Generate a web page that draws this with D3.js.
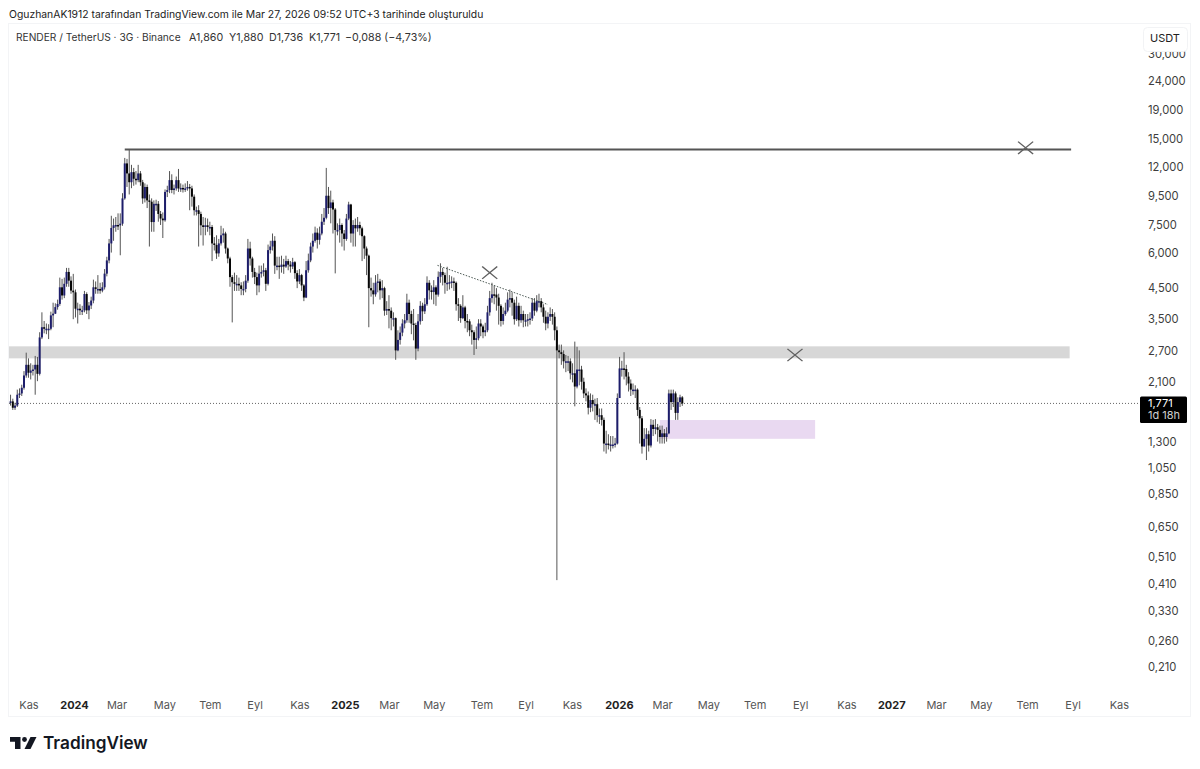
<!DOCTYPE html>
<html>
<head>
<meta charset="utf-8">
<script src="https://cdn.jsdelivr.net/npm/d3@7"></script>
<style>
  body { margin: 0; background: #fff; }
  svg { display: block; font-family: Inter, "Noto Sans", sans-serif; }
</style>
</head>
<body>
<div id="root"></div>
<script>
// 3 day candles
const opens = [
  1.78,1.80,1.71,1.74,1.90,1.92,2.01,2.22,2.42,2.27,2.31,2.33,2.42,2.25,3.02,3.28,3.24,3.24,3.24,3.61,
  3.66,3.86,3.96,4.53,4.24,4.66,5.13,4.78,4.41,4.35,3.81,3.81,3.76,3.76,4.29,3.76,3.91,4.07,4.53,
  4.47,4.47,4.41,4.53,5.06,5.63,6.46,7.32,7.48,7.50,7.48,7.58,9.30,12.34,11.38,10.60,11.50,10.90,10.78,11.38,
  10.60,9.30,10.20,9.15,9.05,7.68,8.90,8.90,8.20,7.90,7.79,9.80,9.95,10.78,9.95,10.08,10.78,10.08,10.12,10.08,
  10.08,10.20,10.08,9.43,8.45,8.45,8.20,7.48,7.38,7.48,7.38,7.38,6.46,6.38,5.96,6.46,6.90,7.00,6.20,5.72,
  4.92,4.72,4.66,4.66,4.60,4.47,4.47,4.78,6.20,5.72,5.13,4.92,4.60,5.06,5.13,5.20,4.66,6.12,6.30,6.60,
  5.40,5.40,5.34,5.44,5.36,5.60,5.44,5.36,5.55,5.08,4.75,5.00,4.60,4.17,5.20,5.63,6.30,6.60,7.05,6.65,
  7.00,7.70,7.95,9.50,8.60,9.00,8.50,7.20,7.20,7.50,7.00,6.70,7.90,8.85,7.00,7.50,7.30,7.50,7.30,6.85,
  6.20,5.85,4.50,4.42,4.28,4.70,4.75,4.42,4.50,3.75,3.80,3.75,3.53,3.53,2.72,2.96,3.14,3.38,3.47,4.00,3.65,
  3.38,3.34,2.76,3.44,3.90,3.73,3.95,4.70,4.42,4.36,4.53,4.27,4.93,5.13,5.00,4.70,4.70,4.72,4.75,4.70,
  3.95,3.90,3.53,3.85,3.45,3.44,3.20,3.15,2.96,3.00,3.38,3.30,3.15,3.20,3.70,4.15,4.28,4.27,4.17,3.90,
  3.45,3.65,3.75,4.10,4.15,4.00,3.50,3.90,3.47,3.65,3.47,3.47,3.50,3.52,4.00,3.75,4.05,4.05,3.85,3.57,
  3.38,3.57,3.65,3.57,3.20,2.72,2.68,2.64,2.49,2.49,2.49,2.26,2.26,2.03,2.33,2.33,2.11,1.92,1.89,1.71,
  1.82,1.76,1.76,1.61,1.61,1.55,1.28,1.28,1.27,1.27,1.27,1.28,1.85,2.35,2.35,2.34,2.20,2.08,1.98,1.98,
  1.98,1.68,1.57,1.25,1.33,1.38,1.26,1.49,1.44,1.46,1.43,1.35,1.39,1.35,1.39,1.92,1.79,1.92,1.64,1.79,
  1.860
];
const closes = [
  1.80,1.71,1.74,1.90,1.92,2.01,2.22,2.42,2.27,2.31,2.33,2.42,2.25,3.02,3.28,3.24,3.24,3.24,3.61,3.66,
  3.86,3.96,4.53,4.24,4.66,5.13,4.78,4.41,4.35,3.81,3.81,3.76,3.76,4.29,3.76,3.91,4.07,4.53,4.47,
  4.47,4.41,4.53,5.06,5.63,6.46,7.32,7.48,7.50,7.48,7.58,9.30,12.34,11.38,10.60,11.50,10.90,10.78,11.38,10.60,
  9.30,10.20,9.15,9.05,7.68,8.90,8.90,8.20,7.90,7.79,9.80,9.95,10.78,9.95,10.08,10.78,10.08,10.12,10.08,10.08,
  10.20,10.08,9.43,8.45,8.45,8.20,7.48,7.38,7.48,7.38,7.38,6.46,6.38,5.96,6.46,6.90,7.00,6.20,5.72,4.92,
  4.72,4.66,4.66,4.60,4.47,4.47,4.78,6.20,5.72,5.13,4.92,4.60,5.06,5.13,5.20,4.66,6.12,6.30,6.60,5.40,
  5.40,5.34,5.44,5.36,5.60,5.44,5.36,5.55,5.08,4.75,5.00,4.60,4.17,5.20,5.63,6.30,6.60,7.05,6.65,7.00,
  7.70,7.95,9.50,8.60,9.00,8.50,7.20,7.20,7.50,7.00,6.70,7.90,8.85,7.00,7.50,7.30,7.50,7.30,6.85,6.20,
  5.85,4.50,4.42,4.28,4.70,4.75,4.42,4.50,3.75,3.80,3.75,3.53,3.53,2.72,2.96,3.14,3.38,3.47,4.00,3.65,3.38,
  3.34,2.76,3.44,3.90,3.73,3.95,4.70,4.42,4.36,4.53,4.27,4.93,5.13,5.00,4.70,4.70,4.72,4.75,4.70,3.95,
  3.90,3.53,3.85,3.45,3.44,3.20,3.15,2.96,3.00,3.38,3.30,3.15,3.20,3.70,4.15,4.28,4.27,4.17,3.90,3.45,
  3.65,3.75,4.10,4.15,4.00,3.50,3.90,3.47,3.65,3.47,3.47,3.50,3.52,4.00,3.75,4.05,4.05,3.85,3.57,3.38,
  3.57,3.65,3.57,3.20,2.72,2.68,2.64,2.49,2.49,2.49,2.26,2.26,2.03,2.33,2.33,2.11,1.92,1.89,1.71,1.82,
  1.76,1.76,1.61,1.61,1.55,1.28,1.28,1.27,1.27,1.27,1.28,1.85,2.35,2.35,2.34,2.20,2.08,1.98,1.98,1.98,
  1.68,1.57,1.25,1.33,1.38,1.26,1.49,1.44,1.46,1.43,1.35,1.39,1.35,1.39,1.92,1.79,1.92,1.64,1.79,1.86,
  1.771
];
const highs = [
  1.90,1.84,1.78,1.98,2.00,2.06,2.30,2.67,2.55,2.45,2.42,2.60,2.58,3.15,3.70,3.45,3.38,3.36,3.72,4.00,
  3.98,4.10,4.90,4.85,4.90,5.30,5.30,4.95,5.05,4.45,4.00,3.95,3.90,4.40,4.35,4.02,4.20,4.82,4.75,
  5.00,4.70,4.72,5.25,5.80,6.70,8.08,7.90,8.00,8.24,8.24,9.70,12.90,12.80,13.75,12.20,11.90,11.60,12.20,11.60,
  10.80,10.50,10.40,9.60,9.30,9.15,9.20,9.10,8.40,8.30,10.00,10.30,11.60,11.30,10.40,11.10,11.80,10.50,10.40,10.50,
  10.70,10.45,10.30,9.60,8.70,8.80,8.35,8.00,7.95,7.90,7.70,7.50,6.80,6.90,6.70,7.45,7.30,7.10,6.25,5.80,
  5.00,5.10,5.00,4.90,4.72,4.75,5.00,6.70,6.55,5.80,5.30,5.10,5.40,5.40,5.50,5.30,6.40,6.60,7.00,6.85,
  5.80,5.80,5.85,5.70,5.85,5.70,5.60,5.75,5.60,5.20,5.25,5.05,4.65,5.60,5.95,6.50,7.00,7.40,7.30,7.40,
  8.20,8.60,11.90,10.20,9.90,9.20,8.60,7.60,7.90,7.60,7.20,8.20,9.05,8.90,7.80,7.90,8.00,7.70,7.40,6.90,
  6.30,5.90,4.90,4.70,5.00,5.05,4.85,4.80,4.55,4.05,4.25,3.85,3.70,3.55,3.20,3.30,3.50,3.65,4.30,4.10,3.75,
  3.80,3.40,3.65,4.05,4.00,4.15,4.95,4.80,4.60,4.80,4.60,5.15,5.50,5.30,5.10,5.35,5.00,4.95,4.90,4.75,
  4.15,3.95,4.25,3.90,3.65,3.50,3.35,3.20,3.30,3.50,3.50,3.35,3.40,3.90,4.40,4.70,4.60,4.50,4.30,3.95,
  3.85,4.00,4.35,4.45,4.35,4.10,4.20,4.00,3.90,3.75,3.65,3.65,3.70,4.15,4.15,4.25,4.30,4.15,3.95,3.75,
  3.70,3.85,3.80,3.70,3.30,2.85,2.85,2.72,2.62,2.60,2.55,2.45,2.92,2.80,2.72,2.40,2.18,2.00,1.95,1.92,
  1.90,1.84,1.85,1.70,1.70,1.58,1.42,1.38,1.36,1.36,1.34,1.92,2.58,2.50,2.68,2.42,2.28,2.15,2.08,2.05,
  2.00,1.72,1.60,1.45,1.45,1.42,1.56,1.55,1.56,1.50,1.48,1.48,1.44,1.46,1.98,1.98,1.98,1.95,1.86,1.90,
  1.880
];
const lows = [
  1.74,1.68,1.68,1.72,1.85,1.88,1.98,2.18,2.18,2.15,2.22,1.90,2.12,2.22,2.98,3.12,3.10,2.98,3.20,3.28,
  3.65,3.78,3.90,4.10,4.15,4.55,4.55,4.30,3.50,3.55,3.38,3.62,3.62,3.70,3.65,3.50,3.80,3.98,4.30,
  4.30,4.30,4.35,4.45,4.95,5.50,6.00,6.60,7.10,7.20,5.87,7.45,9.20,10.20,9.60,10.10,10.30,10.40,10.60,10.30,
  8.90,9.00,8.60,6.30,7.10,7.10,8.40,7.70,7.50,6.75,7.70,9.40,9.70,9.70,9.60,9.90,9.80,9.80,9.75,9.80,
  9.90,8.45,8.70,8.10,8.10,6.30,6.90,6.35,6.90,7.10,6.90,5.60,6.10,5.70,5.80,6.35,6.50,5.95,5.50,4.55,
  3.41,4.40,4.40,4.40,4.25,4.25,4.35,4.70,5.40,4.90,4.65,4.25,4.35,4.90,4.95,4.40,4.60,5.95,6.10,5.05,
  5.20,4.85,5.10,5.05,5.30,5.20,5.10,5.25,4.85,4.50,4.65,4.40,4.05,4.15,5.10,5.55,6.00,6.50,6.20,6.40,
  6.90,7.50,7.85,8.20,7.60,7.00,5.07,6.90,6.50,6.30,6.10,6.60,7.80,6.50,6.30,6.30,7.10,6.90,5.60,5.70,
  5.00,3.28,4.20,3.95,4.20,4.35,4.10,4.15,3.60,3.62,3.25,3.20,3.30,2.52,2.70,2.85,3.05,3.25,3.40,3.40,3.10,
  2.95,2.52,2.70,3.35,3.45,3.65,3.90,4.10,4.10,3.95,3.90,4.20,4.70,4.60,4.30,4.40,4.45,4.50,4.40,3.75,
  3.45,3.40,3.50,3.25,3.15,3.05,2.85,2.62,2.75,2.95,3.05,3.00,3.05,3.15,3.60,4.00,3.95,3.75,3.35,3.30,
  3.35,3.60,3.70,3.85,3.60,3.35,3.45,3.30,3.40,3.28,3.30,3.30,3.35,3.45,3.60,3.70,3.85,3.70,3.40,3.20,
  3.25,3.45,3.35,2.95,0.424,2.55,2.42,2.35,2.28,2.30,2.15,2.10,1.73,2.00,2.05,1.98,1.85,1.80,1.62,1.65,
  1.66,1.55,1.52,1.50,1.48,1.20,1.18,1.22,1.20,1.23,1.24,1.27,1.85,2.20,2.15,2.05,1.95,1.88,1.90,1.85,
  1.60,1.28,1.18,1.25,1.12,1.20,1.24,1.36,1.38,1.30,1.28,1.28,1.28,1.30,1.38,1.68,1.72,1.55,1.55,1.72,
  1.736
];
const lastBarDate = '2026-03-26';

// axis ticks, each label sits on the bar nearest the month start
const priceTicks = [30, 24, 19, 15, 12, 9.5, 7.5, 6, 4.5, 3.5, 2.7, 2.1, 1.3, 1.05, 0.85, 0.65, 0.51, 0.41, 0.33, 0.26, 0.21];
const timeTicks = ['2023-11-01','2024-01-01','2024-02-27','2024-05-01','2024-07-01','2024-08-30','2024-10-29',
  '2024-12-29','2025-02-26','2025-04-27','2025-06-30','2025-08-28','2025-10-29','2025-12-31','2026-02-27',
  '2026-04-30','2026-07-01','2026-08-31','2026-11-01','2026-12-31','2027-03-01','2027-04-30','2027-07-01',
  '2027-08-31','2027-11-01'];
const timeLabels = ['Kas','2024','Mar','May','Tem','Eyl','Kas','2025','Mar','May','Tem','Eyl','Kas','2026','Mar',
  'May','Tem','Eyl','Kas','2027','Mar','May','Tem','Eyl','Kas'];

// drawings on the chart
const athLine = { from: '2024-03-09', to: '2027-08-29', price: 13.8 };
const greyZone = { from: '2023-10-01', to: '2027-08-27', top: 2.81, bottom: 2.55 };
const pinkZone = { from: '2026-02-24', to: '2026-09-20', top: 1.548, bottom: 1.33 };
const trendDates = ['2025-05-02', '2025-09-27'];
const trendPrices = [5.41, 3.94];
const crossDates = ['2027-06-29', '2025-07-11', '2026-08-24'];
const crossPrices = [14.0, 5.10, 2.62];
const lastPrice = 1.771;

const headerText = 'OguzhanAK1912 tarafından TradingView.com ile Mar 27, 2026 09:52 UTC+3 tarihinde oluşturuldu';
const legendText = 'RENDER / TetherUS · 3G · Binance';
const legendValues = ['A1,860', 'Y1,880', 'D1,736', 'K1,771', '−0,088 (−4,73%)'];

buildChart();

function buildChart() {
    const w = 1200;
    const h = 769;
    const parseTime = d3.timeParse('%Y-%m-%d');
    const priceFormat = v => d3.format('.3f')(v).replace('.', ',');

    const svg = d3.select('#root').append('svg')
        .attr('width', w)
        .attr('height', h);

    const xScale = d3.scaleTime()
        .domain([parseTime('2024-01-01'), parseTime('2027-01-01')])
        .range([74, 892]);
    const yScale = d3.scaleLog()
        .domain([30, 0.21])
        .range([53.6, 667]);

    const lastDate = parseTime(lastBarDate);
    const bars = closes.map((c, i) => ({
        date: d3.timeDay.offset(lastDate, (i - closes.length + 1) * 3),
        open: opens[i],
        high: highs[i],
        low: lows[i],
        close: c
    }));

    // frame
    svg.append('rect')
        .attr('x', 8.5).attr('y', 23.5)
        .attr('width', 1182).attr('height', 693)
        .attr('fill', 'none')
        .attr('stroke', '#f3f4f6');

    svg.append('defs').append('clipPath').attr('id', 'pane')
        .append('rect')
        .attr('x', 9).attr('y', 24)
        .attr('width', 1131).attr('height', 670);

    const pane = svg.append('g').attr('clip-path', 'url(#pane)');

    // zones behind the candles
    [[greyZone, '#d7d7d7'], [pinkZone, '#e9d9f1']].forEach(([z, color]) => {
        pane.append('rect')
            .attr('x', xScale(parseTime(z.from)))
            .attr('y', yScale(z.top))
            .attr('width', xScale(parseTime(z.to)) - xScale(parseTime(z.from)))
            .attr('height', yScale(z.bottom) - yScale(z.top))
            .attr('fill', color);
    });

    // last price line
    pane.append('line')
        .attr('x1', 9).attr('x2', 1140)
        .attr('y1', yScale(lastPrice)).attr('y2', yScale(lastPrice))
        .attr('stroke', '#666')
        .attr('stroke-width', 1)
        .attr('stroke-dasharray', '1 2');

    // candles
    pane.selectAll('.wick')
        .data(bars)
        .enter()
        .append('line')
        .attr('class', 'wick')
        .attr('x1', d => xScale(d.date))
        .attr('x2', d => xScale(d.date))
        .attr('y1', d => yScale(d.high))
        .attr('y2', d => yScale(d.low))
        .attr('stroke', '#555')
        .attr('stroke-width', 1);

    pane.selectAll('.body')
        .data(bars)
        .enter()
        .append('rect')
        .attr('class', 'body')
        .attr('x', d => xScale(d.date) - 1)
        .attr('y', d => yScale(Math.max(d.open, d.close)))
        .attr('width', 2)
        .attr('height', d => Math.max(1.5, yScale(Math.min(d.open, d.close)) - yScale(Math.max(d.open, d.close))))
        .attr('fill', d => d.close >= d.open ? '#1d1d6b' : '#050505');

    // resistance line
    pane.append('line')
        .attr('x1', xScale(parseTime(athLine.from)))
        .attr('x2', xScale(parseTime(athLine.to)))
        .attr('y1', yScale(athLine.price))
        .attr('y2', yScale(athLine.price))
        .attr('stroke', '#555')
        .attr('stroke-width', 2);

    // dotted trend line
    pane.append('line')
        .attr('x1', xScale(parseTime(trendDates[0])))
        .attr('x2', xScale(parseTime(trendDates[1])))
        .attr('y1', yScale(trendPrices[0]))
        .attr('y2', yScale(trendPrices[1]))
        .attr('stroke', '#4d5a55')
        .attr('stroke-width', 1)
        .attr('stroke-dasharray', '1.5 1.5');

    // x marks
    const cross = d3.symbol(d3.symbolTimes, 150);
    pane.selectAll('.cross')
        .data(crossDates)
        .enter()
        .append('path')
        .attr('class', 'cross')
        .attr('d', cross)
        .attr('transform', (d, i) => `translate(${xScale(parseTime(d))},${yScale(crossPrices[i])}) scale(1,0.82)`)
        .attr('fill', 'none')
        .attr('stroke', '#5f5f5f')
        .attr('stroke-width', 1.4);

    // axes
    const yAxis = d3.axisRight(yScale)
        .tickValues(priceTicks)
        .tickFormat(priceFormat)
        .tickSize(0)
        .tickPadding(0);
    const yAxisG = svg.append('g')
        .attr('transform', 'translate(1148,0)')
        .call(yAxis);
    yAxisG.select('.domain').remove();
    yAxisG.selectAll('text')
        .attr('font-family', 'Inter')
        .attr('font-size', 11.2)
        .attr('fill', '#3d3d3d');

    const xAxis = d3.axisBottom(xScale)
        .tickValues(timeTicks.map(parseTime))
        .tickFormat((d, i) => timeLabels[i])
        .tickSize(0)
        .tickPadding(0);
    const xAxisG = svg.append('g')
        .attr('transform', 'translate(0,701)')
        .call(xAxis);
    xAxisG.select('.domain').remove();
    xAxisG.selectAll('text')
        .attr('font-family', 'Inter')
        .attr('font-size', 11)
        .attr('font-weight', (d, i) => /^\d/.test(timeLabels[i]) ? 700 : 400)
        .attr('fill', (d, i) => /^\d/.test(timeLabels[i]) ? '#222' : '#555');

    // USDT button sits over the top tick
    svg.append('rect')
        .attr('x', 1143.5).attr('y', 27.5)
        .attr('width', 44).attr('height', 24)
        .attr('rx', 4)
        .attr('fill', '#fff')
        .attr('stroke', '#f2f3f5');
    svg.append('text')
        .attr('x', 1165).attr('y', 42)
        .attr('text-anchor', 'middle')
        .attr('font-size', 11)
        .attr('fill', '#222')
        .text('USDT');

    // last price label
    svg.append('rect')
        .attr('x', 1140).attr('y', 396.5)
        .attr('width', 47).attr('height', 26.5)
        .attr('rx', 1.5)
        .attr('fill', '#000');
    svg.append('text')
        .attr('x', 1148).attr('y', yScale(lastPrice) + 3.5)
        .attr('font-size', 11)
        .attr('fill', '#fff')
        .text(priceFormat(lastPrice));
    svg.append('text')
        .attr('x', 1148).attr('y', 418.5)
        .attr('font-size', 11)
        .attr('fill', '#d0d0d0')
        .text('1d 18h');

    // header + legend
    svg.append('text')
        .attr('x', 9).attr('y', 17.5)
        .attr('font-size', 10.38)
        .attr('fill', '#222')
        .text(headerText);
    svg.append('text')
        .attr('x', 16).attr('y', 41)
        .attr('font-size', 10.2)
        .attr('fill', '#333')
        .text(legendText);
    const legendX = [189, 229, 269, 309, 345];
    svg.selectAll('.legend-value')
        .data(legendValues)
        .enter()
        .append('text')
        .attr('class', 'legend-value')
        .attr('x', (d, i) => legendX[i])
        .attr('y', 41)
        .attr('font-size', 10.7)
        .attr('fill', '#333')
        .text(d => d);

    // TradingView logo
    const logo = svg.append('g').attr('fill', '#131722');
    logo.append('path').attr('d', 'M10 737H20.5V749H15V741.8H10Z');
    logo.append('circle').attr('cx', 24.5).attr('cy', 739.5).attr('r', 2.4);
    logo.append('path').attr('d', 'M30.5 737H36.5L30.5 749H24.5Z');
    svg.append('text')
        .attr('x', 43).attr('y', 749)
        .attr('font-size', 17.2)
        .attr('font-weight', 600)
        .attr('fill', '#131722')
        .text('TradingView');
}
</script>
</body>
</html>
